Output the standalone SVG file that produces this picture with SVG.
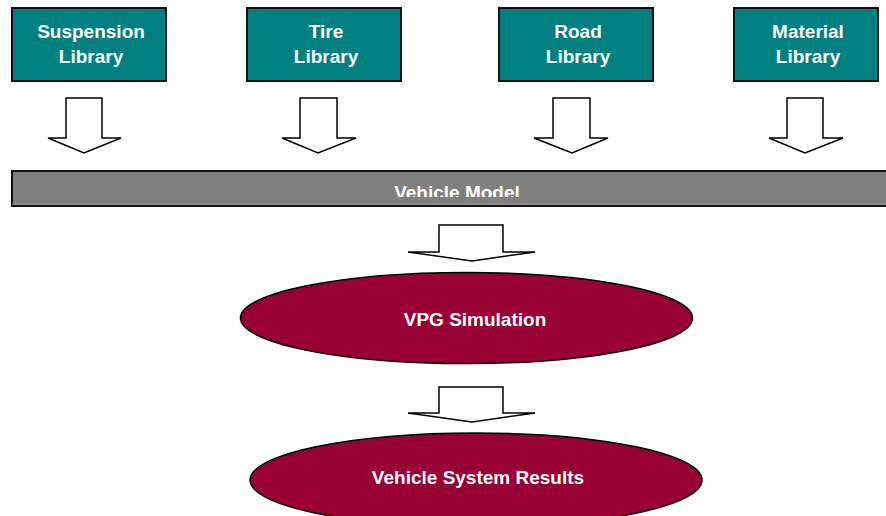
<svg xmlns="http://www.w3.org/2000/svg" width="886" height="516" viewBox="0 0 886 516">
<style>
.lib{fill:#008080;stroke:#111;stroke-width:2}
.t{font-family:"Liberation Sans",Arial,sans-serif;font-weight:bold;font-size:19px;fill:#fff;text-anchor:middle}
.arr{fill:#fff;stroke:#000;stroke-width:1.5;stroke-linejoin:miter}
.ell{fill:#990033;stroke:#000;stroke-width:1.5}
</style>
<defs>
<clipPath id="barclip"><rect x="11" y="171" width="880" height="26"/></clipPath>
</defs>
<rect width="886" height="516" fill="#fff"/>
<g id="suspension-library">
<rect class="lib" x="12" y="8" width="154" height="73"/>
<text class="t" x="91" y="38">Suspension</text>
<text class="t" x="91" y="63">Library</text>
</g>
<g id="tire-library">
<rect class="lib" x="247" y="8" width="154" height="73"/>
<text class="t" x="326" y="38">Tire</text>
<text class="t" x="326" y="63">Library</text>
</g>
<g id="road-library">
<rect class="lib" x="499" y="8" width="154" height="73"/>
<text class="t" x="578" y="38">Road</text>
<text class="t" x="578" y="63">Library</text>
</g>
<g id="material-library">
<rect class="lib" x="734" y="8" width="144" height="73"/>
<text class="t" x="808" y="38">Material</text>
<text class="t" x="808" y="63">Library</text>
</g>
<g id="vehicle-model">
<rect x="12" y="171" width="880" height="35" fill="#808080" stroke="#111" stroke-width="2"/>
<line x1="12" y1="204" x2="886" y2="204" stroke="#9a9a9a" stroke-width="1"/>
<text class="t" x="457" y="199" clip-path="url(#barclip)">Vehicle Model</text>
</g>
<g id="vpg-simulation">
<ellipse class="ell" cx="466.5" cy="318" rx="226" ry="45.5"/>
<text class="t" x="475" y="326">VPG Simulation</text>
</g>
<g id="vehicle-system-results">
<ellipse class="ell" cx="476" cy="480" rx="226" ry="47"/>
<text class="t" x="478" y="484">Vehicle System Results</text>
</g>
<g id="connectors">
<polygon class="arr" points="66,98 102,98 102,138 121,138 84,153 48,138 66,138"/>
<polygon class="arr" points="300,98 337,98 337,138 356,138 318,153 282,138 300,138"/>
<polygon class="arr" points="553,98 590,98 590,138 608,138 572,153 534,138 553,138"/>
<polygon class="arr" points="787,98 823,98 823,138 843,138 805,153 769,138 787,138"/>
<polygon class="arr" points="439,225 503,225 503,252 535,252 472,261 408,252 439,252"/>
<polygon class="arr" points="439,387 503,387 503,413 535,413 472,422 408,413 439,413"/>
</g>
</svg>
